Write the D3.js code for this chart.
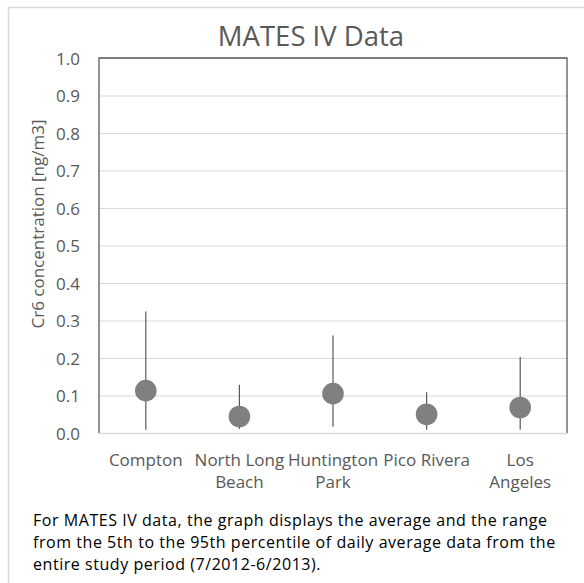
<!DOCTYPE html>
<html>
<head>
<meta charset="utf-8">
<script src="https://cdn.jsdelivr.net/npm/d3@7"></script>
<style>
  body { margin: 0; background: #fff; }
  text { font-family: "Open Sans", sans-serif; }
</style>
</head>
<body>
<script>
const sites = ["Compton", "North Long Beach", "Huntington Park", "Pico Rivera", "Los Angeles"]
const siteLines = [["Compton"], ["North Long", "Beach"], ["Huntington", "Park"], ["Pico Rivera"], ["Los", "Angeles"]]
const moyenne = [0.113, 0.044, 0.105, 0.050, 0.068]
const p5 = [0.009, 0.011, 0.017, 0.009, 0.009]
const p95 = [0.324, 0.129, 0.260, 0.109, 0.203]
const yTicks = [0, 0.1, 0.2, 0.3, 0.4, 0.5, 0.6, 0.7, 0.8, 0.9, 1.0]
const notes = [
  "For MATES IV data, the graph displays the average and the range",
  "from the 5th to the 95th percentile of daily average data from the",
  "entire study period (7/2012-6/2013)."
]

const WIDTH = 584
const HEIGHT = 583
const svg = d3.select("body").append("svg").attr("width", WIDTH).attr("height", HEIGHT)

// bordure du cadre (coupee a droite et en bas)
svg.append("path")
  .attr("d", "M8.5," + HEIGHT + "V7.5H" + WIDTH)
  .attr("fill", "none").attr("stroke", "#d9d9d9").attr("stroke-width", 1.5)

const pLeft = 99, pRight = 567, pTop = 58, pBottom = 433

const x = d3.scaleBand().domain(sites).range([pLeft, pRight])
const y = d3.scaleLinear().domain([0, 1]).range([pBottom, pTop])

// flou leger sur les cercles
const defs = svg.append("defs")
defs.append("filter").attr("id", "soft")
  .append("feGaussianBlur").attr("stdDeviation", 0.7)

// grille
svg.append("g")
  .attr("transform", "translate(" + pLeft + ",0)")
  .call(d3.axisLeft(y).tickValues(yTicks).tickSize(-(pRight - pLeft)).tickFormat(""))
  .call(g => g.select(".domain").remove())
  .call(g => g.selectAll("line").attr("stroke", "#d9d9d9").attr("stroke-width", 1))

// cadre du graphique
svg.append("path")
  .attr("d", "M" + pLeft + "," + pBottom + "V" + pTop + "H" + pRight + "V" + pBottom)
  .attr("fill", "none").attr("stroke", "#595959").attr("stroke-width", 1.3)

// axe Y
svg.append("g")
  .attr("transform", "translate(" + (pLeft - 19) + ",0)")
  .call(d3.axisLeft(y).tickValues(yTicks).tickSize(0).tickFormat(d3.format(".1f")))
  .call(g => g.select(".domain").remove())
  .call(g => g.selectAll("text")
    .attr("x", 0).attr("dy", "0.36em")
    .attr("fill", "#595959").style("font-size", "17px").style("font-family", "Open Sans"))

// axe X
const xAxis = svg.append("g")
  .attr("transform", "translate(0," + pBottom + ")")
  .call(d3.axisBottom(x).tickSize(0).tickFormat(""))
xAxis.select(".domain").attr("stroke", "#d9d9d9").attr("stroke-width", 1.3)
xAxis.selectAll(".tick text")
  .attr("y", 33).attr("dy", null)
  .attr("fill", "#595959").style("font-size", "17px").style("font-family", "Open Sans")
  .each(function(d, i) {
    const t = d3.select(this)
    siteLines[i].forEach(function(l, k) {
      t.append("tspan").attr("x", 0).attr("y", 33 + k * 22).text(l)
    })
  })

// barres 5e-95e percentile
svg.selectAll(".range")
  .data(sites)
  .enter().append("line")
  .attr("class", "range")
  .attr("x1", d => x(d) + x.bandwidth() / 2)
  .attr("x2", d => x(d) + x.bandwidth() / 2)
  .attr("y1", (d, i) => y(p5[i]))
  .attr("y2", (d, i) => y(p95[i]))
  .attr("stroke", "#595959").attr("stroke-width", 1.2)

// moyennes
svg.selectAll(".moy")
  .data(sites)
  .enter().append("circle")
  .attr("class", "moy")
  .attr("cx", d => x(d) + x.bandwidth() / 2)
  .attr("cy", (d, i) => y(moyenne[i]))
  .attr("r", 10.8)
  .attr("fill", "#808080")
  .attr("filter", "url(#soft)")

// titre
svg.append("text")
  .attr("x", 311).attr("y", 46)
  .attr("text-anchor", "middle")
  .attr("fill", "#595959")
  .style("font-size", "27.5px")
  .text("MATES IV Data")

// titre axe Y
svg.append("text")
  .attr("transform", "translate(44,224) rotate(-90)")
  .attr("text-anchor", "middle")
  .attr("fill", "#595959")
  .style("font-size", "17px")
  .text("Cr6 concentration [ng/m3]")

// note
svg.append("g").selectAll("text")
  .data(notes)
  .enter().append("text")
  .attr("x", 33)
  .attr("y", (d, i) => 526 + i * 22)
  .attr("fill", "#000")
  .style("font-size", "16px")
  .style("letter-spacing", "0.55px")
  .text(d => d)
</script>
</body>
</html>
